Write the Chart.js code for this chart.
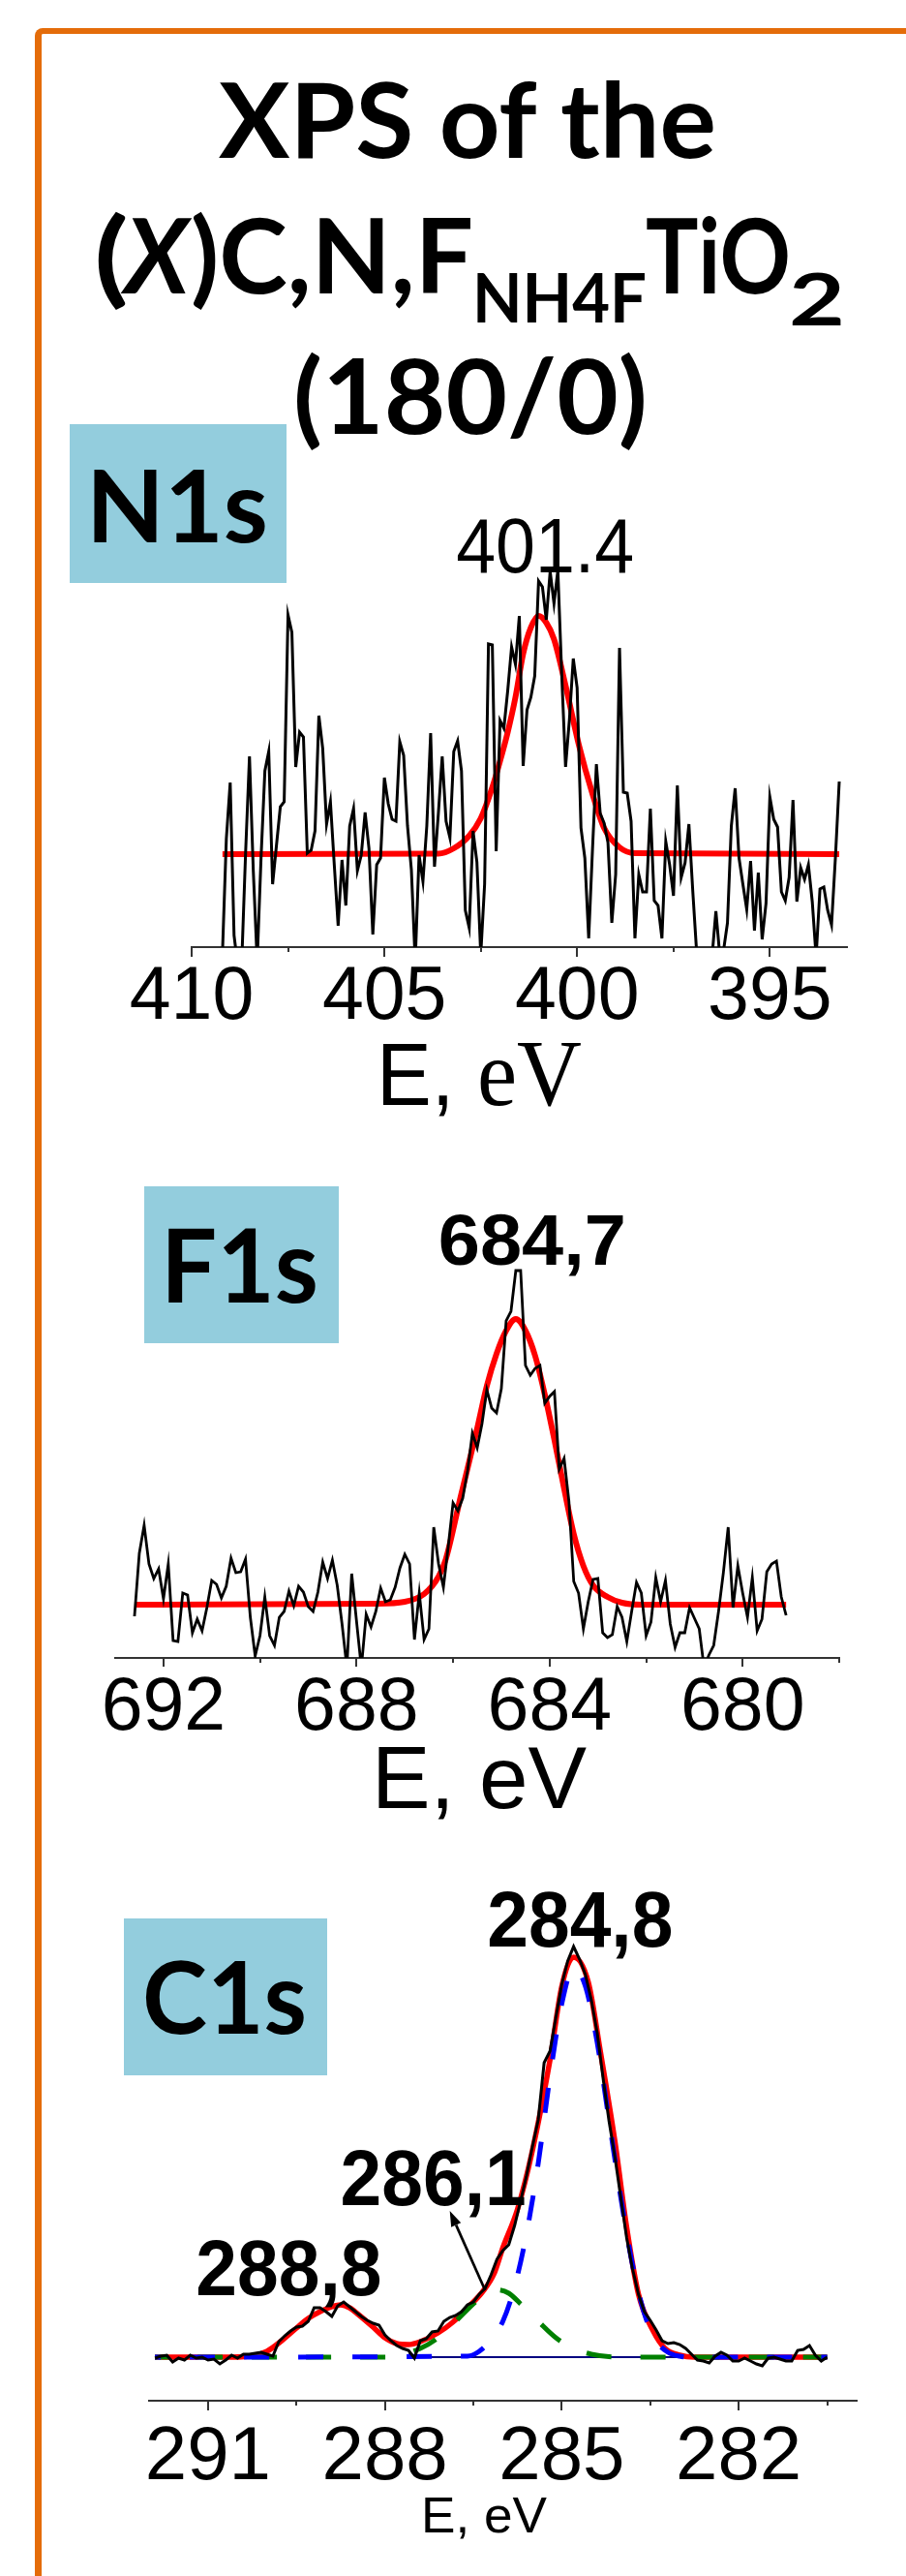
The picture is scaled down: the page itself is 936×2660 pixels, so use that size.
<!DOCTYPE html>
<html>
<head>
<meta charset="utf-8">
<title>XPS of the (X)C,N,F NH4F TiO2 (180/0)</title>
<style>
  html, body { margin: 0; padding: 0; background: #fff; }
  body { position: relative; width: 936px; height: 2660px; overflow: hidden; }
  #frame { position: absolute; left: 36px; top: 29px; width: 960px; height: 2700px;
           border-left: 7px solid #E46C0A; border-top: 6px solid #E46C0A; border-top-left-radius: 8px; }
  .box { position: absolute; background: #93CDDD; }
  svg, canvas { position: absolute; left: 0; }
  svg { top: 0; }
</style>
</head>
<body>
<div id="frame"></div>
<div class="box" style="left:72px;top:438px;width:224px;height:164px"></div>
<div class="box" style="left:149px;top:1225px;width:201px;height:162px"></div>
<div class="box" style="left:128px;top:1981px;width:210px;height:162px"></div>

<svg width="936" height="2660" font-family="Lato, 'Open Sans', sans-serif" font-weight="bold" fill="#000">
  <text x="226" y="163" font-size="107" textLength="514" lengthAdjust="spacingAndGlyphs">XPS of the</text>
  <text x="97" y="303" font-size="107" textLength="36" lengthAdjust="spacingAndGlyphs">(</text>
  <text x="129" y="303" font-size="107" font-style="italic" textLength="66" lengthAdjust="spacingAndGlyphs">X</text>
  <text x="197" y="303" font-size="107" textLength="292" lengthAdjust="spacingAndGlyphs">)C,N,F</text>
  <text x="488" y="333" font-size="70" textLength="180" lengthAdjust="spacingAndGlyphs">NH4F</text>
  <text x="667" y="303" font-size="107" textLength="150" lengthAdjust="spacingAndGlyphs">TiO</text>
  <text x="815" y="336" font-size="75" textLength="58" lengthAdjust="spacingAndGlyphs">2</text>
  <text x="303" y="448" font-size="107" textLength="366" lengthAdjust="spacingAndGlyphs">(180/0)</text>
  <text x="89" y="560" font-size="103" textLength="188" lengthAdjust="spacingAndGlyphs">N1s</text>
  <text x="166" y="1345" font-size="106" textLength="163" lengthAdjust="spacingAndGlyphs">F1s</text>
  <text x="147" y="2100" font-size="104" textLength="170" lengthAdjust="spacingAndGlyphs">C1s</text>
</svg>

<canvas id="n1sChart" width="936" height="650" style="top:520px"></canvas>
<canvas id="f1sChart" width="936" height="670" style="top:1230px"></canvas>
<canvas id="c1sChart" width="936" height="720" style="top:1930px"></canvas>

<script src="https://cdn.jsdelivr.net/npm/chart.js"></script>
<script>
// ---------- N1s ----------
const n1sTicks = [410, 405, 400, 395];
const n1sMinorTicks = [407.5, 402.5, 397.5];
const n1sEnergy = [
  409.2, 409.1, 409.0, 408.9, 408.8, 408.7, 408.6, 408.5, 408.4, 408.3,
  408.2, 408.1, 408.0, 407.9, 407.8, 407.7, 407.6, 407.5, 407.4, 407.3,
  407.2, 407.1, 407.0, 406.9, 406.8, 406.7, 406.6, 406.5, 406.4, 406.3,
  406.2, 406.1, 406.0, 405.9, 405.8, 405.7, 405.6, 405.5, 405.4, 405.3,
  405.2, 405.1, 405.0, 404.9, 404.8, 404.7, 404.6, 404.5, 404.4, 404.3,
  404.2, 404.1, 404.0, 403.9, 403.8, 403.7, 403.6, 403.5, 403.4, 403.3,
  403.2, 403.1, 403.0, 402.9, 402.8, 402.7, 402.6, 402.5, 402.4, 402.3,
  402.2, 402.1, 402.0, 401.9, 401.8, 401.7, 401.6, 401.5, 401.4, 401.3,
  401.2, 401.1, 401.0, 400.9, 400.8, 400.7, 400.6, 400.5, 400.4, 400.3,
  400.2, 400.1, 400.0, 399.9, 399.8, 399.7, 399.6, 399.5, 399.4, 399.3,
  399.2, 399.1, 399.0, 398.9, 398.8, 398.7, 398.6, 398.5, 398.4, 398.3,
  398.2, 398.1, 398.0, 397.9, 397.8, 397.7, 397.6, 397.5, 397.4, 397.3,
  397.2, 397.1, 397.0, 396.9, 396.8, 396.7, 396.6, 396.5, 396.4, 396.3,
  396.2, 396.1, 396.0, 395.9, 395.8, 395.7, 395.6, 395.5, 395.4, 395.3,
  395.2, 395.1, 395.0, 394.9, 394.8, 394.7, 394.6, 394.5, 394.4, 394.3,
  394.2, 394.1, 394.0, 393.9, 393.8, 393.7, 393.6, 393.5, 393.4, 393.3,
  393.2
];
const n1sCounts = [
  -5, 112, 170, 12, -20, -15, 98, 197, 78, -15,
  92, 182, 202, 65, 105, 145, 150, 343, 325, 186,
  222, 217, 97, 100, 120, 239, 205, 127, 150, 85,
  22, 90, 43, 125, 143, 79, 95, 139, 102, 13,
  85, 92, 175, 148, 132, 130, 212, 198, 125, 80,
  -15, 95, 68, 125, 221, 83, 138, 197, 130, 113,
  202, 213, 182, 38, 20, 120, 88, -8, 65, 313,
  312, 99, 234, 226, 265, 310, 292, 342, 187, 245,
  258, 280, 378, 372, 338, 388, 355, 389, 282, 186,
  235, 298, 268, 123, 92, 9, 102, 189, 138, 128,
  108, 25, 75, 309, 160, 159, 130, 9, 75, 57,
  57, 143, 48, 43, 9, 109, 85, 53, 167, 72,
  87, 127, 58, -5, -25, -30, -25, -10, 37, -8,
  -3, 25, 125, 164, 92, 65, 39, 89, 17, 77,
  8, 45, 155, 132, 124, 57, 48, 72, 152, 47,
  82, 70, 85, 47, -10, 60, 62, 38, 23, 92,
  171
];
const n1sFitEnergy = [409.2, 403.6, 403.2, 402.8, 402.5, 402.2, 402.0, 401.8, 401.6, 401.4, 401.2,
  401.0, 400.8, 400.6, 400.3, 399.95, 399.6, 399.3, 398.9, 398.5, 393.2];
const n1sFit = [96, 96.5, 102, 115, 133, 165, 192, 222, 258, 303, 330,
  342, 335, 318, 270, 208, 158, 123, 103, 97, 96];
const n1sPeakLabels = ['401.4'];
const n1sPeakPos = [[400.83, 387]];

// ---------- F1s ----------
const f1sTicks = [692, 688, 684, 680];
const f1sMinorTicks = [690, 686, 682, 678];
const f1sEnergy = [
  692.6, 692.5, 692.4, 692.3, 692.2, 692.1, 692.0, 691.9, 691.8, 691.7,
  691.6, 691.5, 691.4, 691.3, 691.2, 691.1, 691.0, 690.9, 690.8, 690.7,
  690.6, 690.5, 690.4, 690.3, 690.2, 690.1, 690.0, 689.9, 689.8, 689.7,
  689.6, 689.5, 689.4, 689.3, 689.2, 689.1, 689.0, 688.9, 688.8, 688.7,
  688.6, 688.5, 688.4, 688.3, 688.2, 688.1, 688.0, 687.9, 687.8, 687.7,
  687.6, 687.5, 687.4, 687.3, 687.2, 687.1, 687.0, 686.9, 686.8, 686.7,
  686.6, 686.5, 686.4, 686.3, 686.2, 686.1, 686.0, 685.9, 685.8, 685.7,
  685.6, 685.5, 685.4, 685.3, 685.2, 685.1, 685.0, 684.9, 684.8, 684.7,
  684.6, 684.5, 684.4, 684.3, 684.2, 684.1, 684.0, 683.9, 683.8, 683.7,
  683.6, 683.5, 683.4, 683.3, 683.2, 683.1, 683.0, 682.9, 682.8, 682.7,
  682.6, 682.5, 682.4, 682.3, 682.2, 682.1, 682.0, 681.9, 681.8, 681.7,
  681.6, 681.5, 681.4, 681.3, 681.2, 681.1, 681.0, 680.9, 680.8, 680.7,
  680.6, 680.5, 680.4, 680.3, 680.2, 680.1, 680.0, 679.9, 679.8, 679.7,
  679.6, 679.5, 679.4, 679.3, 679.2, 679.1
];
const f1sCounts = [
  43, 108, 137, 97, 82, 92, 61, 97, 18, 17,
  67, 65, 26, 40, 28, 52, 80, 76, 62, 74,
  103, 88, 89, 102, 42, 2, 23, 63, 23, 13,
  42, 48, 69, 54, 74, 68, 53, 48, 68, 99,
  82, 101, 75, 35, -10, 87, 38, -10, 45, 32,
  48, 72, 58, 60, 73, 93, 107, 97, 19, 67,
  19, 30, 135, 97, 73, 115, 160, 152, 165, 193,
  232, 217, 242, 277, 258, 253, 278, 348, 358, 400,
  400, 302, 292, 299, 302, 263, 270, 275, 195, 206,
  162, 79, 67, 30, 58, 81, 82, 26, 21, 24,
  53, 42, 17, 48, 78, 67, 23, 37, 83, 58,
  80, 35, 11, 26, 26, 52, 41, 30, -10, 3,
  13, 48, 88, 135, 52, 95, 67, 42, 83, 28,
  40, 89, 97, 100, 63, 44
];
const f1sFitEnergy = [692.6, 687.6, 687.0, 686.6, 686.3, 686.15, 685.85, 685.5, 685.3, 685.1, 684.9, 684.7,
  684.5, 684.3, 684.1, 683.9, 683.7, 683.5, 683.3, 683.1, 682.8, 682.5, 682.1, 679.1];
const f1sFit = [55, 56, 58, 66, 84, 102, 165, 237, 281, 314, 338, 350,
  338, 312, 272, 225, 175, 128, 95, 75, 63, 57, 55, 55];
const f1sPeakLabels = ['684,7'];
const f1sPeakPos = [[684.36, 406]];

// ---------- C1s ----------
const c1sTicks = [291, 288, 285, 282];
const c1sMinorTicks = [289.5, 286.5, 283.5, 280.5];
const c1sEnergy = [
  291.9, 291.8, 291.7, 291.6, 291.5, 291.4, 291.3, 291.2, 291.1, 291.0,
  290.9, 290.8, 290.7, 290.6, 290.5, 290.4, 290.3, 290.2, 290.1, 290.0,
  289.9, 289.8, 289.7, 289.6, 289.5, 289.4, 289.3, 289.2, 289.1, 289.0,
  288.9, 288.8, 288.7, 288.6, 288.5, 288.4, 288.3, 288.2, 288.1, 288.0,
  287.9, 287.8, 287.7, 287.6, 287.5, 287.4, 287.3, 287.2, 287.1, 287.0,
  286.9, 286.8, 286.7, 286.6, 286.5, 286.4, 286.3, 286.2, 286.1, 286.0,
  285.9, 285.8, 285.7, 285.6, 285.5, 285.4, 285.3, 285.2, 285.1, 285.0,
  284.9, 284.8, 284.7, 284.6, 284.5, 284.4, 284.3, 284.2, 284.1, 284.0,
  283.9, 283.8, 283.7, 283.6, 283.5, 283.4, 283.3, 283.2, 283.1, 283.0,
  282.9, 282.8, 282.7, 282.6, 282.5, 282.4, 282.3, 282.2, 282.1, 282.0,
  281.9, 281.8, 281.7, 281.6, 281.5, 281.4, 281.3, 281.2, 281.1, 281.0,
  280.9, 280.8, 280.7, 280.6, 280.5
];
const c1sCounts = [
  44, 46, 47, 40, 44, 42, 47, 44, 45, 42,
  43, 38, 42, 47, 44, 48, 48, 49, 50, 48,
  46, 61, 67, 72, 76, 77, 82, 96, 96, 92,
  87, 98, 102, 97, 92, 87, 83, 80, 78, 68,
  62, 57, 54, 52, 44, 62, 64, 71, 72, 82,
  86, 88, 92, 99, 102, 110, 116, 130, 146, 155,
  161, 181, 206, 232, 262, 290, 349, 361, 396, 430,
  454, 469, 456, 440, 414, 380, 333, 289, 252, 210,
  168, 136, 110, 92, 83, 73, 62, 59, 60, 58,
  54, 48, 42, 41, 39, 46, 50, 47, 41, 41,
  44, 41, 38, 36, 44, 45, 43, 41, 41, 52,
  53, 57, 47, 41, 45
];
// envelope of the fit
const c1sFitEnergy = [291.9, 290.6, 290.2, 290.0, 289.75, 289.5, 289.3, 289.1, 288.9, 288.75, 288.6, 288.45,
  288.2, 288.0, 287.8, 287.6, 287.4, 287.1, 286.85, 286.6, 286.35, 286.15, 286.0, 285.75, 285.5, 285.2,
  285.0, 284.8, 284.55, 284.35, 284.1, 283.9, 283.7, 283.45, 283.25, 283.0, 282.75, 280.5];
const c1sFit = [45, 45, 47, 51, 62, 75, 85, 92, 97, 99, 96, 89,
  76, 65, 59, 58, 61, 70, 81, 96, 112, 131, 158, 198, 258, 352,
  428, 458, 432, 362, 268, 179, 110, 72, 54, 47, 45, 45];
// C-C component (284,8)
const c1sCCEnergy = [291.9, 286.6, 286.4, 286.2, 286.0, 285.8, 285.6, 285.4, 285.2, 285.0, 284.8,
  284.6, 284.4, 284.2, 284.0, 283.8, 283.6, 283.4, 283.2, 283.0, 282.8, 280.5];
const c1sCC = [45, 46, 51, 63, 82, 118, 172, 245, 335, 410, 447,
  428, 370, 290, 210, 140, 90, 62, 50, 46, 45, 45];
// C-O component (286,1)
const c1sCOEnergy = [291.9, 288.0, 287.7, 287.4, 287.1, 286.8, 286.5, 286.3, 286.1, 285.9, 285.7,
  285.4, 285.1, 284.8, 284.5, 284.2, 283.8, 280.5];
const c1sCO = [45, 45, 48, 54, 65, 82, 100, 111, 114.5, 111, 100,
  82, 65, 54, 48, 45.5, 45, 45];
// background
const c1sBgEnergy = [287.6, 287.3, 287.0, 280.5];
const c1sBg = [48, 45.5, 45, 45];
const c1sPeakLabels = ['284,8', '286,1', '288,8'];
const c1sPeakPos = [[284.69, 469], [287.18, 202], [289.63, 109]];

// ============================================================
const SANS = "'Liberation Sans', Arial, sans-serif";
const SERIF = "'Liberation Serif', 'Times New Roman', serif";
const CLIP = { left: 10, top: 10, right: 10, bottom: 0 };

const pts = (xs, ys) => xs.map((x, i) => ({ x: x, y: ys[i] }));

// text squeezed to a given advance width (the scanned figure is slightly compressed)
function fitText(ctx, parts, x0, y, width) {
    let total = 0;
    parts.forEach(p => { ctx.font = p.font; total += ctx.measureText(p.text).width; });
    ctx.save();
    ctx.translate(x0, y);
    ctx.scale(width / total, 1);
    let x = 0;
    parts.forEach(p => {
        ctx.font = p.font;
        ctx.fillText(p.text, x, 0);
        x += ctx.measureText(p.text).width;
    });
    ctx.restore();
}

// tick marks, peak labels, axis title, arrow
const xpsDecor = {
    id: 'xpsDecor',
    afterDraw(chart, args, opts) {
        const { ctx, chartArea } = chart;
        const xs = chart.scales.x, ys = chart.scales.y;
        ctx.save();
        ctx.strokeStyle = '#333';
        ctx.lineWidth = 2;
        const mark = (v, len) => {
            const px = Math.round(xs.getPixelForValue(v));
            ctx.beginPath();
            ctx.moveTo(px, chartArea.bottom);
            ctx.lineTo(px, chartArea.bottom + len);
            ctx.stroke();
        };
        opts.major.forEach(v => mark(v, opts.majorLen));
        opts.minor.forEach(v => mark(v, opts.minorLen));

        ctx.fillStyle = '#000';
        ctx.textBaseline = 'alphabetic';
        ctx.textAlign = 'left';
        opts.labels.forEach((txt, i) => {
            const [e, v] = opts.labelPos[i];
            fitText(ctx, [{ text: txt, font: opts.labelFont }], xs.getPixelForValue(e) - opts.labelWidth / 2,
                ys.getPixelForValue(v), opts.labelWidth);
        });

        const t = opts.title;
        fitText(ctx, t.parts, t.cx - t.width / 2, chartArea.bottom + t.dy, t.width);

        if (opts.arrow) {
            const a = opts.arrow;
            const x1 = xs.getPixelForValue(a.from[0]), y1 = ys.getPixelForValue(a.from[1]);
            const x2 = xs.getPixelForValue(a.to[0]), y2 = ys.getPixelForValue(a.to[1]);
            const ang = Math.atan2(y2 - y1, x2 - x1);
            const head = 16, half = 5.5;
            const bx = x2 - head * Math.cos(ang), by = y2 - head * Math.sin(ang);
            ctx.strokeStyle = '#000';
            ctx.lineWidth = 2.7;
            ctx.beginPath();
            ctx.moveTo(x1, y1);
            ctx.lineTo(bx, by);
            ctx.stroke();
            ctx.beginPath();
            ctx.moveTo(x2, y2);
            ctx.lineTo(bx + half * Math.sin(ang), by - half * Math.cos(ang));
            ctx.lineTo(bx - half * Math.sin(ang), by + half * Math.cos(ang));
            ctx.closePath();
            ctx.fill();
        }
        ctx.restore();
    }
};

function drawSpectrum(canvasId, p) {
    return new Chart(document.getElementById(canvasId), {
        type: 'line',
        data: { datasets: p.datasets },
        options: {
            responsive: false,
            animation: false,
            devicePixelRatio: 1,
            layout: { padding: { left: p.left, right: p.right, top: p.top, bottom: 0 } },
            elements: { point: { radius: 0 }, line: { tension: 0 } },
            plugins: {
                legend: { display: false },
                tooltip: { enabled: false },
                xpsDecor: p.decor
            },
            scales: {
                x: {
                    type: 'linear',
                    reverse: true,
                    min: p.min,
                    max: p.max,
                    border: { display: true, color: '#333', width: 2 },
                    grid: { display: false, drawTicks: false },
                    ticks: { color: '#000', font: { family: SANS, size: p.tickSize }, padding: p.tickPad, autoSkip: false, maxRotation: 0 },
                    afterBuildTicks: s => { s.ticks = p.major.map(v => ({ value: v })); },
                    afterFit: s => { s.height = p.axisHeight; }
                },
                y: { display: false, min: 0, max: p.yMax }
            }
        },
        plugins: [xpsDecor]
    });
}

// N1s
drawSpectrum('n1sChart', {
    left: 198, right: 61, top: 60, axisHeight: 192, yMax: 398,
    min: 393, max: 410, major: n1sTicks, tickSize: 77, tickPad: 7,
    datasets: [
        { data: pts(n1sEnergy, n1sCounts), borderColor: '#000', borderWidth: 3, clip: CLIP },
        { data: pts(n1sFitEnergy, n1sFit), borderColor: '#FF0000', borderWidth: 6, cubicInterpolationMode: 'monotone', clip: CLIP }
    ],
    decor: {
        major: n1sTicks, minor: n1sMinorTicks, majorLen: 10, minorLen: 5,
        labels: n1sPeakLabels, labelPos: n1sPeakPos, labelFont: '80px ' + SANS, labelWidth: 184,
        title: { parts: [{ text: 'E, ', font: '90px ' + SANS }, { text: 'eV', font: '98px ' + SERIF }], cx: 495, dy: 163, width: 212 }
    }
});

// F1s
drawSpectrum('f1sChart', {
    left: 119, right: 69, top: 70, axisHeight: 188, yMax: 412,
    min: 678, max: 693, major: f1sTicks, tickSize: 77, tickPad: 7,
    datasets: [
        { data: pts(f1sEnergy, f1sCounts), borderColor: '#000', borderWidth: 2.8, clip: CLIP },
        { data: pts(f1sFitEnergy, f1sFit), borderColor: '#FF0000', borderWidth: 6, cubicInterpolationMode: 'monotone', clip: CLIP }
    ],
    decor: {
        major: f1sTicks, minor: f1sMinorTicks, majorLen: 9, minorLen: 5,
        labels: f1sPeakLabels, labelPos: f1sPeakPos, labelFont: 'bold 75px ' + SANS, labelWidth: 194,
        title: { parts: [{ text: 'E, eV', font: '90px ' + SANS }], cx: 495, dy: 155, width: 222 }
    }
});

// C1s
drawSpectrum('c1sChart', {
    left: 154, right: 51, top: 60, axisHeight: 171, yMax: 489,
    min: 280, max: 292, major: c1sTicks, tickSize: 78, tickPad: 13,
    datasets: [
        { data: pts(c1sEnergy, c1sCounts), borderColor: '#000', borderWidth: 3, clip: CLIP },
        { data: pts(c1sCCEnergy, c1sCC), borderColor: '#0000FF', borderWidth: 5, borderDash: [26, 30], borderDashOffset: 20, cubicInterpolationMode: 'monotone', clip: CLIP },
        { data: pts(c1sCOEnergy, c1sCO), borderColor: '#008000', borderWidth: 5, borderDash: [26, 30], borderDashOffset: 12, cubicInterpolationMode: 'monotone', clip: CLIP },
        { data: pts(c1sFitEnergy, c1sFit), borderColor: '#FF0000', borderWidth: 5.5, cubicInterpolationMode: 'monotone', clip: CLIP },
        { data: pts(c1sBgEnergy, c1sBg), borderColor: '#000080', borderWidth: 2, cubicInterpolationMode: 'monotone', clip: CLIP }
    ],
    decor: {
        major: c1sTicks, minor: c1sMinorTicks, majorLen: 10, minorLen: 5,
        labels: c1sPeakLabels, labelPos: c1sPeakPos, labelFont: 'bold 81px ' + SANS, labelWidth: 192,
        title: { parts: [{ text: 'E, eV', font: '52px ' + SANS }], cx: 500, dy: 136, width: 130 },
        arrow: { from: [286.3, 114], to: [286.9, 196] }
    }
});
</script>
</body>
</html>
